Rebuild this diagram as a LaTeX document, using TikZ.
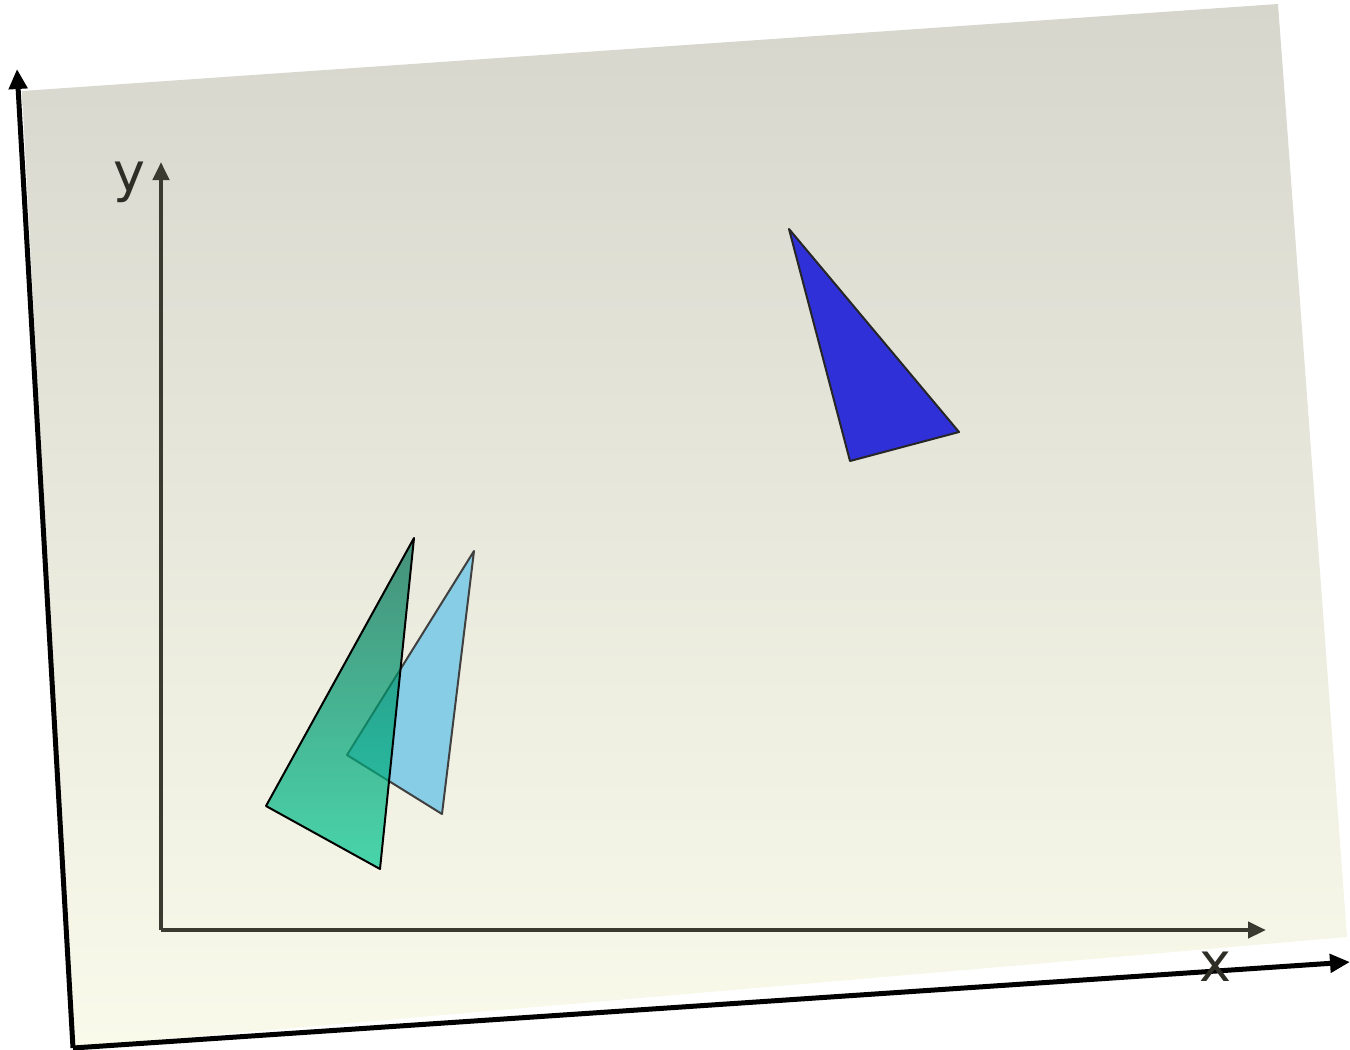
\documentclass[tikz,border=0pt]{standalone}
\usepackage{fontspec}
\setmainfont{DejaVu Sans}
\usetikzlibrary{arrows.meta}
\definecolor{paperTop}{RGB}{214,214,205}
\definecolor{paperBot}{RGB}{250,250,235}
\definecolor{axisCol}{RGB}{58,58,48}
\definecolor{tealTop}{RGB}{0,108,79}
\definecolor{tealBot}{RGB}{0,200,145}
\definecolor{skyBlue}{RGB}{135,205,230}
\definecolor{deepBlue}{RGB}{48,48,216}
\tikzset{
  outeraxis/.style={line width=2.5pt, black, -{Triangle[length=10pt,width=9pt]}},
  inneraxis/.style={line width=2.2pt, axisCol, -{Triangle[length=9pt,width=8pt]}},
  axislabel/.style={font=\fontsize{27}{30}\selectfont, text=axisCol!80!black, inner sep=0pt},
  tri/.style={line width=1pt, line join=round}
}
\begin{document}
\begin{tikzpicture}[x=0.5pt, y=-0.5pt]
    \useasboundingbox (0,0) rectangle (1350,1050);

    % Tilted sheet
    \shade[top color=paperTop, bottom color=paperBot]
        (22,91) -- (1278,4) -- (1347,937) -- (73,1047) -- cycle;

    % Outer axes
    \coordinate (O1) at (73,1048);
    \coordinate (Y1) at (17,69);
    \coordinate (X1) at (1350,962);
    \draw[outeraxis] (O1) -- (Y1);
    \draw[outeraxis] (O1) -- (X1);

    % Inner axes
    \coordinate (O2) at (161,930);
    \coordinate (Y2) at (161,162);
    \coordinate (X2) at (1266,930);
    \draw[inneraxis] (O2) -- (Y2);
    \draw[inneraxis] (O2) -- (X2);
    \node[axislabel] (ylab) at (129,182) {y};
    \node[axislabel] (xlab) at (1215,967) {x};

    % Triangles
    \draw[tri, fill=skyBlue, draw=black!75] (474,551) -- (347,755) -- (442,814) -- cycle;
    \shade[top color=tealTop, bottom color=tealBot, fill opacity=0.7]
        (414,538) -- (266,806) -- (380,869) -- cycle;
    \draw[tri, black] (414,538) -- (266,806) -- (380,869) -- cycle;
    \draw[tri, fill=deepBlue, draw=black!85] (789,229) -- (850,461) -- (959,432) -- cycle;
\end{tikzpicture}
\end{document}
